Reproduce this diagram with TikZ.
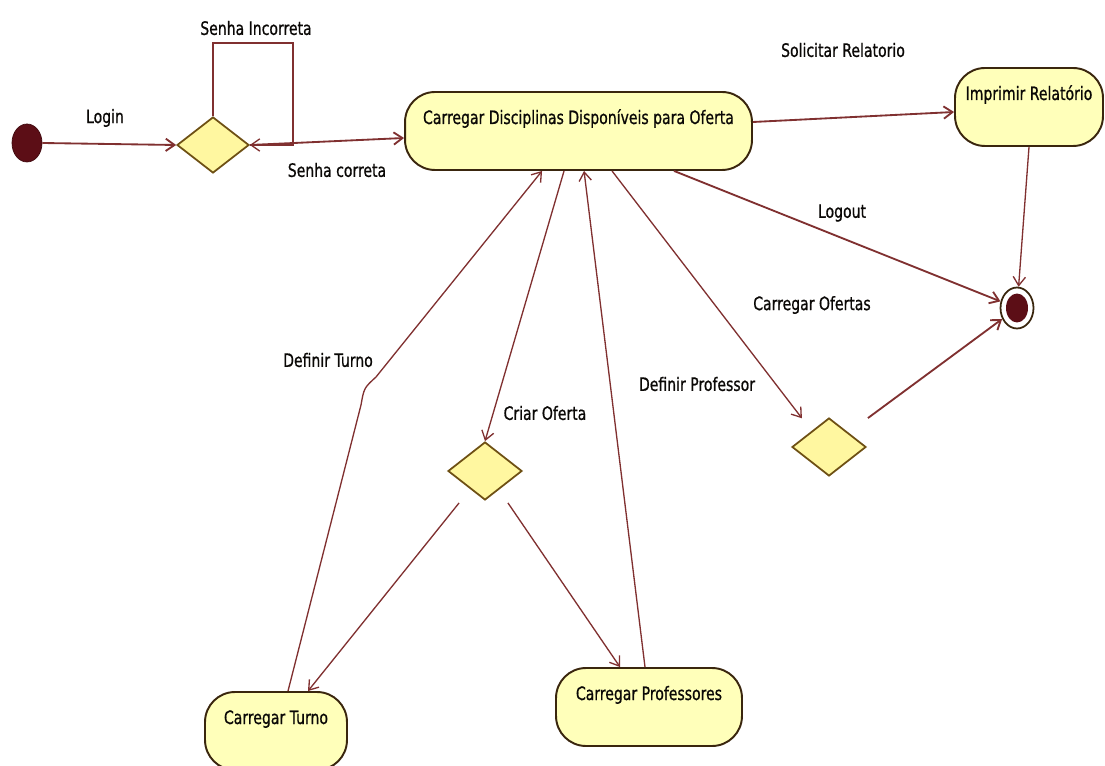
\documentclass[tikz,border=0pt]{standalone}
\usepackage{fontspec}
\setmainfont{DejaVu Sans}[FakeStretch=0.76, FakeBold=0.8]
\usetikzlibrary{shapes.geometric,arrows.meta,calc}
\definecolor{wirecol}{RGB}{128,48,48}
\definecolor{edgecol}{RGB}{58,38,14}
\definecolor{diacol}{RGB}{110,80,20}
\definecolor{cream}{RGB}{255,255,186}
\definecolor{lemon}{RGB}{255,247,160}
\definecolor{dotcol}{RGB}{92,14,22}
\definecolor{inkcol}{RGB}{10,8,6}
\begin{document}
\begin{tikzpicture}[x=0.02cm, y=-0.02cm,
  font=\fontsize{10.5}{12}\selectfont,
  flow/.style={draw=wirecol, line width=0.75pt, -{Straight Barb[length=5pt,width=7pt]}},
  heavy/.style={line width=1.05pt},
  activity/.style={draw=edgecol, line width=1.1pt, fill=cream, rounded corners=0.6cm,
    inner xsep=0pt, inner ysep=0pt, text height=0.64cm, text depth=0.92cm,
    minimum height=1.56cm, text=inkcol},
  choice/.style={diamond, draw=diacol, line width=1pt, fill=lemon, inner sep=0pt,
    minimum width=1.48cm, minimum height=1.16cm},
  lbl/.style={text=inkcol, inner sep=1pt}]

\clip (0,0) rectangle (1105,766);
\fill[white] (0,0) rectangle (1105,766);

% start and end markers
\node[ellipse, fill=dotcol, draw=dotcol!70!black, minimum width=0.6cm, minimum height=0.76cm, inner sep=0pt] (init) at (27,143) {};
\node[ellipse, fill=white, draw=edgecol, line width=1pt, minimum width=0.66cm, minimum height=0.82cm, inner sep=0pt] (fin) at (1017,308) {};
\node[ellipse, fill=dotcol, minimum width=0.44cm, minimum height=0.58cm, inner sep=0pt] (finIn) at (fin.center) {};

% decisions
\node[choice, minimum width=1.44cm, minimum height=1.12cm] (d1) at (213,145) {};
\node[choice] (d2) at (485,471) {};
\node[choice] (d3) at (829,447) {};

% activities
\node[activity, minimum width=6.94cm] (main) at (578.5,131) {Carregar Disciplinas Disponíveis para Oferta};
\node[activity, minimum width=2.96cm] (imp) at (1029,107) {Imprimir Relatório};
\node[activity, minimum width=3.72cm] (prof) at (649,707) {Carregar Professores};
\node[activity, minimum width=2.84cm] (turno) at (276,731) {Carregar Turno};

% login and password check
\draw[flow, heavy] (init.east) -- (d1.west);
\coordinate (loopc) at (293,43);
\draw[flow] (d1.north) |- (loopc) |- (d1.east);
\draw[flow, heavy] (d1.east) -- ([yshift=-0.14cm]main.west);

% report and logout
\draw[flow, heavy] ([yshift=0.18cm]main.east) -- ([yshift=-0.1cm]imp.west);
\draw[flow] (imp.south) -- (fin);
\draw[flow, heavy] ([xshift=5.4cm]main.south west) -- (fin);

% offers
\draw[flow, shorten >=2pt] ([xshift=4.16cm]main.south west) -- ([shift={(-0.12cm,0.22cm)}]d3.north west);
\draw[flow, heavy] ([shift={(0.4cm,0.28cm)}]d3.north east) -- (fin);
\draw[flow] ([xshift=3.2cm]main.south west) -- (d2.north);
\draw[flow] ([shift={(-0.14cm,-0.34cm)}]d2.south west) -- ([xshift=0.64cm]turno.north);
\draw[flow] ([shift={(0.08cm,-0.34cm)}]d2.south east) -- ([xshift=-0.58cm]prof.north);
\draw[flow] ([xshift=-0.08cm]prof.north) -- ([xshift=3.6cm]main.south west);
\coordinate (bendA) at (361,405);
\coordinate (bendB) at (364,388);
\coordinate (bendC) at (376,377);
\draw[flow] ([xshift=0.24cm]turno.north) -- (bendA) .. controls (bendB) .. (bendC) -- ([xshift=2.76cm]main.south west);

% transition labels
\node[lbl] (tLogin) at (105,118) {Login};
\node[lbl] (tWrong) at (256,28) {Senha Incorreta};
\node[lbl] (tRight) at (337,170) {Senha correta};
\node[lbl] (tReport) at (843,50) {Solicitar Relatorio};
\node[lbl] (tLogout) at (842,213) {Logout};
\node[lbl] (tOffers) at (812,305) {Carregar Ofertas};
\node[lbl] (tProf) at (697,384) {Definir Professor};
\node[lbl] (tTurno) at (328,360) {Definir Turno};
\node[lbl] (tCreate) at (545,413) {Criar Oferta};
\end{tikzpicture}
\end{document}
